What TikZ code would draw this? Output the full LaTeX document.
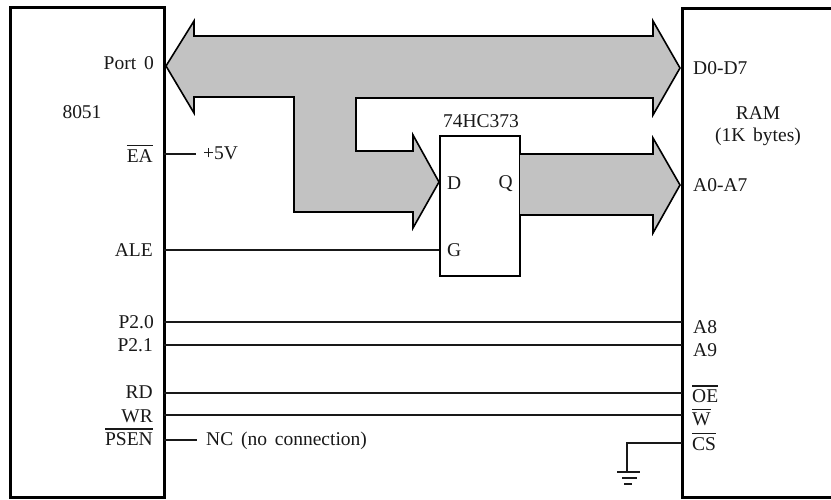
\documentclass[tikz,border=0pt]{standalone}
\usepackage{fontspec}
\setmainfont{Liberation Serif}
\newcommand{\labfont}{\fontsize{19.5}{22}\selectfont\spaceskip 7.8pt\relax}
\tikzset{
  chip/.style={draw=black,line width=3pt},
  latchbox/.style={draw=black,line width=1.4pt,fill=white,minimum width=80pt,minimum height=140pt,inner sep=0pt},
  bus/.style={draw=black,line width=1.6pt,fill=black!24,line join=miter},
  wire/.style={draw=black!90,line width=1.5pt},
  lab/.style={font=\labfont,text=black!90,inner sep=0pt},
  labr/.style={lab,anchor=east},
  labl/.style={lab,anchor=west}
}
\newcommand{\ovl}[1]{\vbox{\hrule height 1.3pt\kern 3pt\hbox{#1}}}
\begin{document}
\begin{tikzpicture}[x=1pt,y=-1pt]
\useasboundingbox (0,0) rectangle (831,500);
\fill[white] (0,0) rectangle (831,500);
% chips
\draw[chip] (10,8) rectangle (164,497);
\draw[chip] (835,9) -- (682,9) -- (682,497) -- (835,497);
% buses
\draw[bus] (166,66) -- (194,21) -- (194,36) -- (653,36) -- (653,21) -- (680,68)
  -- (653,115) -- (653,98) -- (356,98) -- (356,151) -- (413,151) -- (413,135)
  -- (439,182) -- (413,228) -- (413,212) -- (294,212) -- (294,97) -- (194,97)
  -- (194,113) -- cycle;
\node[latchbox] (latch) at (480,206) {};
\draw[bus] (520,154) -- (653,154) -- (653,138) -- (680,185) -- (653,233)
  -- (653,215) -- (520,215);
% labels, left chip
\node[labr] (port0) at (154,63) {Port 0};
\node[lab] (n8051) at (82,112) {8051};
\node[labr] (ea) at (153,153.5) {\ovl{EA}};
\node[labr] (ale) at (153,250) {ALE};
\node[labr] (p20) at (154,322) {P2.0};
\node[labr] (p21) at (153,345) {P2.1};
\node[labr] (rd) at (153,392) {RD};
\node[labr] (wr) at (153,416) {WR};
\node[labr] (psen) at (153,437) {\ovl{PSEN}};
% latch labels
\node[lab] (chipname) at (481,121) {74HC373};
\node[labl] (d) at (447,183) {D};
\node[labr] (q) at (513,184) {Q};
\node[labl] (g) at (447,250) {G};
% right chip labels
\node[labl] (d07) at (693,68) {D0-D7};
\node[lab] (ram) at (758,113) {RAM};
\node[lab] (kb) at (758,137) {(1K bytes)};
\node[labl] (a07) at (693,185) {A0-A7};
\node[labl] (a8) at (693,327) {A8};
\node[labl] (a9) at (693,350) {A9};
\node[labl] (oe) at (692,394) {\ovl{OE}};
\node[labl] (w) at (692,417.5) {\ovl{W}};
\node[labl] (cs) at (692,441.5) {\ovl{CS}};
% free texts
\node[labl] (v5) at (203,153) {+5V};
\node[labl] (nc) at (206,441) {NC (no connection)};
% wires
\coordinate (lx) at (164,0);
\coordinate (rx) at (682,0);
\draw[wire] (lx |- 0,154) -- (196,154);
\draw[wire] (lx |- 0,250) -- (latch.west |- 0,250);
\draw[wire] (lx |- 0,322) -- (rx |- 0,322);
\draw[wire] (lx |- 0,345) -- (rx |- 0,345);
\draw[wire] (lx |- 0,393) -- (rx |- 0,393);
\draw[wire] (lx |- 0,415) -- (rx |- 0,415);
\draw[wire] (lx |- 0,440) -- (197,440);
\coordinate (gnd) at (627,472);
\draw[wire] (rx |- 0,443) -- (gnd |- 0,443) -- (gnd);
\draw[wire] (617,472) -- (640,472);
\draw[wire] (622,478) -- (637,478);
\draw[wire,line width=2pt] (624,484) -- (632,484);
\end{tikzpicture}
\end{document}
